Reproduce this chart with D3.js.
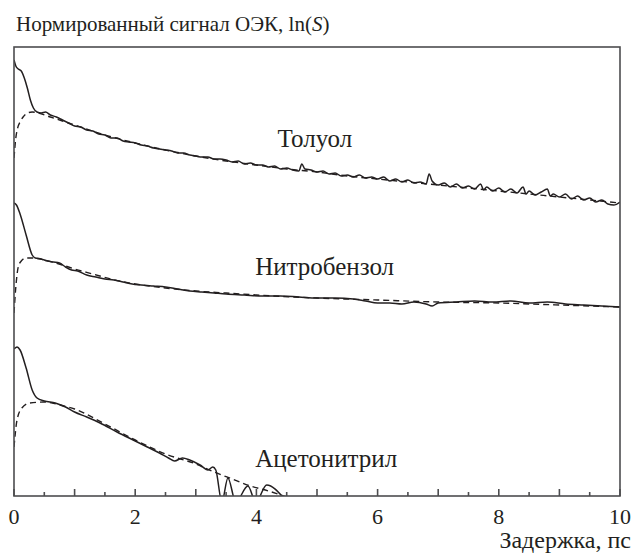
<!DOCTYPE html>
<html>
<head>
<meta charset="utf-8">
<script src="https://cdn.jsdelivr.net/npm/d3@7"></script>
</head>
<body style="margin:0">
<svg id="chart" width="633" height="556" font-family="Liberation Serif"></svg>
<script>
var fontFam = "Liberation Serif";

// x ticks (delay, ps)
var xTicksLabelled = [0, 2, 4, 6, 8, 10];
var xTicksMajor = [0, 1, 2, 3, 4, 5, 6, 7, 8, 9, 10];
var xTicksMinor = [0.5, 1.5, 2.5, 3.5, 4.5, 5.5, 6.5, 7.5, 8.5, 9.5];

// curves are stacked with offsets, values are ln(S) + offset (arbitrary units)
var tolueneMeasured = [
  [0, 43.6], [0.03, 43.0], [0.07, 42.7], [0.12, 42.5], [0.17, 41.8], [0.22, 40.8], [0.27, 39.6],
  [0.32, 38.8], [0.38, 38.4], [0.45, 38.3], [0.52, 38.4], [0.6, 38.1], [0.7, 37.9], [0.8, 37.6],
  [0.9, 37.3], [1.0, 37.0], [1.1, 36.9], [1.2, 36.6], [1.3, 36.5], [1.4, 36.2], [1.5, 36.1],
  [1.6, 35.8], [1.7, 35.8], [1.8, 35.5], [1.9, 35.4], [2.0, 35.3], [2.1, 35.1], [2.2, 35.0],
  [2.3, 34.8], [2.4, 34.7], [2.5, 34.6], [2.6, 34.5], [2.7, 34.3], [2.8, 34.3], [2.9, 34.1],
  [3.0, 34.0], [3.1, 33.9], [3.2, 33.9], [3.3, 33.7], [3.4, 33.7], [3.5, 33.6], [3.6, 33.4],
  [3.7, 33.5], [3.8, 33.2], [3.9, 33.3], [4.0, 33.1], [4.1, 33.1], [4.2, 32.9], [4.3, 33.0],
  [4.4, 32.7], [4.5, 32.8], [4.6, 32.6], [4.7, 32.5], [4.75, 33.2], [4.8, 32.7], [4.9, 32.6],
  [5.0, 32.4], [5.1, 32.5], [5.2, 32.2], [5.3, 32.3], [5.4, 32.0], [5.5, 32.1], [5.6, 31.9],
  [5.7, 32.1], [5.8, 31.8], [5.9, 31.9], [6.0, 31.7], [6.1, 31.9], [6.2, 31.5], [6.3, 31.7],
  [6.4, 31.4], [6.5, 31.6], [6.6, 31.3], [6.7, 31.4], [6.8, 31.2], [6.85, 32.2], [6.9, 31.5],
  [7.0, 31.1], [7.1, 31.3], [7.2, 30.9], [7.3, 31.2], [7.4, 30.8], [7.5, 31.0], [7.6, 30.7],
  [7.7, 31.2], [7.75, 30.6], [7.8, 30.9], [7.9, 30.5], [8.0, 30.8], [8.1, 30.4], [8.2, 30.7],
  [8.3, 30.3], [8.4, 30.9], [8.45, 30.2], [8.5, 30.5], [8.6, 30.1], [8.7, 30.4], [8.8, 30.7],
  [8.85, 30.0], [8.9, 30.2], [9.0, 29.9], [9.1, 30.2], [9.2, 29.7], [9.3, 30.0], [9.4, 29.6],
  [9.5, 29.8], [9.6, 29.4], [9.7, 29.6], [9.8, 29.2], [9.9, 29.1], [10.0, 29.4]
];
var tolueneFit = [
  [0, 33.8], [0.03, 35.8], [0.06, 36.8], [0.1, 37.4], [0.15, 37.9], [0.22, 38.3], [0.3, 38.4],
  [0.4, 38.3], [0.6, 37.9], [0.8, 37.5], [1.0, 37.1], [1.5, 36.1], [2, 35.3], [2.5, 34.6],
  [3, 34.0], [3.5, 33.5], [4, 33.1], [4.5, 32.7], [5, 32.4], [5.5, 32.0], [6, 31.7], [6.5, 31.4],
  [7, 31.1], [7.5, 30.8], [8, 30.5], [8.5, 30.2], [9, 29.9], [9.5, 29.6], [10, 29.3]
];

var nitroMeasured = [
  [0, 29.3], [0.04, 29.1], [0.1, 28.2], [0.2, 26.1], [0.3, 24.1], [0.35, 23.8], [0.45, 23.7],
  [0.55, 23.5], [0.65, 23.4], [0.75, 23.3], [0.85, 22.9], [0.95, 22.6], [1.05, 22.5], [1.2, 22.1],
  [1.35, 21.9], [1.5, 21.7], [1.65, 21.6], [1.8, 21.4], [1.95, 21.2], [2.1, 21.1], [2.3, 21.0],
  [2.5, 20.9], [2.7, 20.7], [2.9, 20.5], [3.1, 20.4], [3.3, 20.3], [3.5, 20.2], [3.8, 20.1],
  [4.1, 20.0], [4.4, 20.0], [4.7, 19.9], [5.0, 19.8], [5.3, 19.8], [5.6, 19.7], [5.8, 19.5],
  [6.0, 19.3], [6.2, 19.3], [6.4, 19.2], [6.6, 19.4], [6.8, 19.2], [6.9, 19.0], [7.0, 19.3],
  [7.3, 19.4], [7.6, 19.5], [7.9, 19.4], [8.2, 19.5], [8.5, 19.3], [8.8, 19.4], [9.1, 19.2],
  [9.4, 19.1], [9.7, 19.0], [10, 18.9]
];
var nitroFit = [
  [0, 18.3], [0.03, 20.9], [0.07, 22.9], [0.12, 23.5], [0.2, 23.8], [0.3, 23.8], [0.5, 23.6],
  [0.8, 23.1], [1.0, 22.7], [1.3, 22.2], [1.6, 21.7], [2.0, 21.2], [2.5, 20.8], [3, 20.5],
  [3.5, 20.3], [4, 20.1], [5, 19.8], [6, 19.6], [7, 19.4], [8, 19.3], [9, 19.1], [10, 18.9]
];

var acetoMeasured = [
  [0, 14.7], [0.05, 14.9], [0.1, 14.6], [0.2, 12.8], [0.3, 10.6], [0.38, 9.8], [0.5, 9.5],
  [0.68, 9.3], [0.85, 8.9], [1.0, 8.4], [1.2, 7.9], [1.42, 7.3], [1.7, 6.4], [2.0, 5.5],
  [2.2, 4.9], [2.4, 4.3], [2.55, 3.8], [2.65, 3.5], [2.78, 3.8], [2.9, 3.6], [3.07, 3.1],
  [3.2, 2.6], [3.28, 2.9], [3.33, 2.6], [3.43, -0.6], [3.53, 1.8], [3.66, -0.6], [3.86, 1.0],
  [3.99, -0.6], [4.17, 1.1], [4.45, -0.2]
];
var acetoFit = [
  [0, 4.9], [0.05, 7.6], [0.13, 8.8], [0.26, 9.3], [0.5, 9.4], [0.76, 9.1], [1.0, 8.7],
  [1.5, 7.2], [2.0, 5.6], [2.5, 4.2], [3.0, 3.2], [3.3, 2.4], [3.6, 1.7], [3.9, 1.0],
  [4.2, 0.5], [4.5, -0.1]
];

var seriesLabels = ["Толуол", "Нитробензол", "Ацетонитрил"];
var labelPos = [[4.35, 34.9], [3.98, 22.1], [3.98, 2.9]];

var margin = { top: 47, right: 13, bottom: 60, left: 14 },
  width = 633 - margin.left - margin.right,
  height = 556 - margin.top - margin.bottom;

var svg = d3.select("#chart")
  .append("g")
  .attr("transform", "translate(" + margin.left + "," + margin.top + ")");

var x = d3.scaleLinear().domain([0, 10]).range([0, width]);
var y = d3.scaleLinear().domain([0, 44.9]).range([height, 0]);

// clip so the log singularities stop at the axis
svg.append("clipPath").attr("id", "plotclip")
  .append("rect").attr("width", width).attr("height", height);

var line = d3.line()
  .x(function (d) { return x(d[0]); })
  .y(function (d) { return y(d[1]); })
  .curve(d3.curveMonotoneX);

var plot = svg.append("g").attr("clip-path", "url(#plotclip)");

[tolueneFit, nitroFit, acetoFit].forEach(function (s) {
  plot.append("path")
    .datum(s)
    .attr("fill", "none")
    .attr("stroke", "#231f20")
    .attr("stroke-width", 1.4)
    .attr("stroke-dasharray", "6,4")
    .attr("d", line);
});

[tolueneMeasured, nitroMeasured, acetoMeasured].forEach(function (s) {
  plot.append("path")
    .datum(s)
    .attr("fill", "none")
    .attr("stroke", "#231f20")
    .attr("stroke-width", 1.5)
    .attr("stroke-linejoin", "round")
    .attr("d", line);
});

// frame
svg.append("rect")
  .attr("width", width)
  .attr("height", height)
  .attr("fill", "none")
  .attr("stroke", "#4d4d4f")
  .attr("stroke-width", 1.6);

// inward ticks, long at integers, short at halves
svg.selectAll(".tick-major")
  .data(xTicksMajor)
  .enter().append("line")
  .attr("class", "tick-major")
  .attr("x1", function (d) { return x(d); })
  .attr("x2", function (d) { return x(d); })
  .attr("y1", height)
  .attr("y2", height - 7)
  .attr("stroke", "#4d4d4f")
  .attr("stroke-width", 1.6);

svg.selectAll(".tick-minor")
  .data(xTicksMinor)
  .enter().append("line")
  .attr("class", "tick-minor")
  .attr("x1", function (d) { return x(d); })
  .attr("x2", function (d) { return x(d); })
  .attr("y1", height)
  .attr("y2", height - 4)
  .attr("stroke", "#4d4d4f")
  .attr("stroke-width", 1.6);

svg.selectAll(".tick-label")
  .data(xTicksLabelled)
  .enter().append("text")
  .attr("class", "tick-label")
  .attr("x", function (d) { return x(d); })
  .attr("y", height + 28)
  .attr("text-anchor", "middle")
  .attr("font-family", fontFam)
  .attr("font-size", 22)
  .attr("fill", "#231f20")
  .text(function (d) { return d; });

// axis titles
svg.append("text")
  .attr("x", width + margin.right - 2)
  .attr("y", height + 52)
  .attr("text-anchor", "end")
  .attr("font-family", fontFam)
  .attr("font-size", 24)
  .attr("fill", "#231f20")
  .text("Задержка, пс");

var title = svg.append("text")
  .attr("x", 2)
  .attr("y", -16)
  .attr("font-family", fontFam)
  .attr("font-size", 21)
  .attr("fill", "#231f20")
  .text("Нормированный сигнал ОЭК, ln(");
title.append("tspan").attr("font-style", "italic").text("S");
title.append("tspan").text(")");

// curve names
svg.selectAll(".curve-label")
  .data(seriesLabels)
  .enter()
  .append("text")
  .attr("class", "curve-label")
  .attr("x", function (d, i) { return x(labelPos[i][0]); })
  .attr("y", function (d, i) { return y(labelPos[i][1]); })
  .attr("font-family", fontFam)
  .attr("font-size", 25)
  .attr("fill", "#231f20")
  .text(function (d) { return d; });
</script>
</body>
</html>
